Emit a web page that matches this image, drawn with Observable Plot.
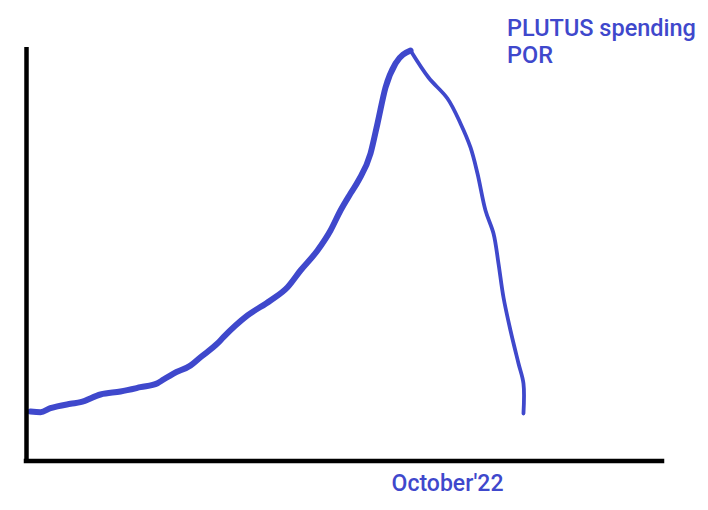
<!DOCTYPE html>
<html>
<head>
<meta charset="utf-8">
<script src="https://cdn.jsdelivr.net/npm/d3@7"></script>
<script src="https://cdn.jsdelivr.net/npm/@observablehq/plot@0.6"></script>
<style>
  html, body { margin: 0; padding: 0; background: #fff; }
  #wrap { position: relative; width: 708px; height: 510px; }
  #title {
    position: absolute; left: 507px; top: 15px;
    font-family: Roboto, "Noto Sans", sans-serif; font-weight: 500;
    font-size: 23.5px; line-height: 27px; color: #3f48cc; white-space: nowrap;
  }
</style>
</head>
<body>
<div id="wrap">
  <div id="title"></div>
</div>
<script>
// Series (x: time units, y: spending, both 0–100 of axis length)
const rising_t = [0.63, 2.20, 3.77, 6.92, 8.49, 11.64, 14.78, 17.92, 20.60, 21.54, 23.11, 25.79, 27.36, 30.03, 30.97, 34.75, 38.36, 41.04, 43.08, 45.75, 47.80, 49.37, 50.94, 52.20, 54.09, 55.19, 56.45, 58.02, 60.38];
const rising_v = [11.97, 11.80, 12.77, 13.83, 14.22, 16.08, 16.81, 17.85, 18.81, 19.71, 21.16, 23.10, 25.10, 28.42, 29.94, 35.19, 38.81, 42.03, 46.07, 50.91, 55.74, 60.58, 64.69, 67.84, 74.37, 81.63, 90.33, 96.13, 99.27];
const falling_t = [60.38, 63.21, 66.19, 68.24, 69.81, 70.91, 72.17, 73.43, 74.21, 75.00, 76.10, 77.36, 78.14, 78.14];
const falling_v = [99.27, 92.74, 87.67, 81.63, 75.82, 69.53, 60.58, 55.02, 47.76, 39.54, 31.56, 23.58, 18.74, 11.49];
const tickValues = [66.2];
const tickLabels = ["October'22"];
const titleLines = ["PLUTUS spending", "POR"];

const rising = rising_t.map((t, i) => ({t, v: rising_v[i]}));
const falling = falling_t.map((t, i) => ({t, v: falling_v[i]}));

const blue = "#3f48cc";

const chart = Plot.plot({
  width: 708,
  height: 510,
  marginLeft: 26,
  marginRight: 46,
  marginTop: 47,
  marginBottom: 49.5,
  x: {domain: [0, 100]},
  y: {domain: [0, 100], axis: null},
  style: {background: "#fff"},
  marks: [
    Plot.axisX(tickValues, {
      tickSize: 0,
      tickPadding: 14,
      tickFormat: (d, i) => tickLabels[i],
      fontSize: 23,
      fontWeight: 500,
      fontFamily: "Roboto, 'Noto Sans', sans-serif",
      color: blue,
      label: null
    }),
    Plot.line(rising, {x: "t", y: "v", stroke: blue, strokeWidth: 6, curve: "monotone-x"}),
    Plot.line(falling, {x: "t", y: "v", stroke: blue, strokeWidth: 3.8, curve: "catmull-rom"}),
    Plot.ruleX([0], {stroke: "#000", strokeWidth: 4.5, strokeLinecap: "butt"}),
    Plot.ruleY([0], {stroke: "#000", strokeWidth: 4.5, strokeLinecap: "square"})
  ]
});

const wrap = document.getElementById("wrap");
wrap.insertBefore(chart, wrap.firstChild);
document.getElementById("title").innerHTML = titleLines.join("<br>");
</script>
</body>
</html>
